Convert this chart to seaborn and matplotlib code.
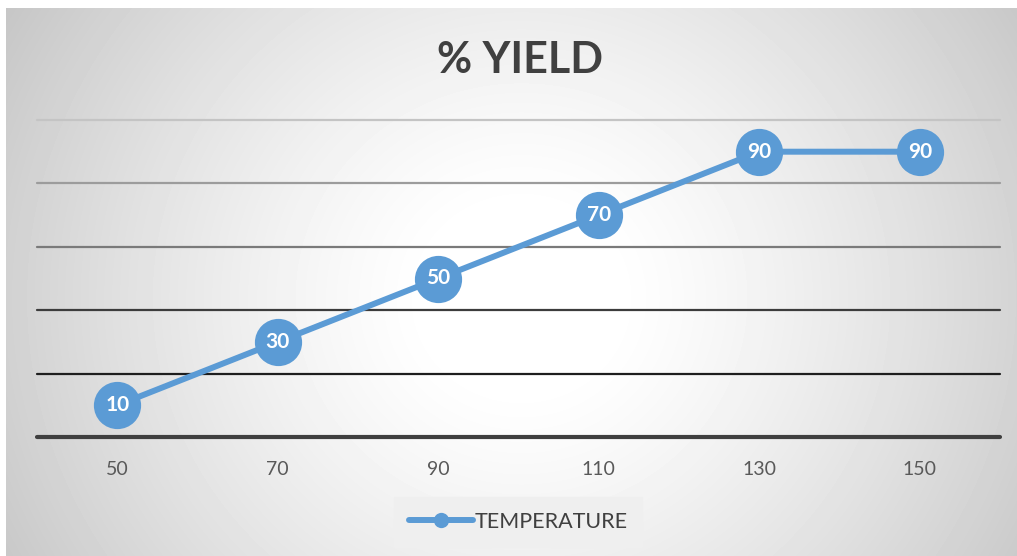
import numpy as np
import pandas as pd
import matplotlib
matplotlib.use("Agg")
import matplotlib.pyplot as plt
from matplotlib.lines import Line2D
import seaborn as sns

# Data
temperatures = ["50", "70", "90", "110", "130", "150"]
yield_pct = [10, 30, 50, 70, 90, 90]
series_name = "TEMPERATURE"
chart_title = "% YIELD"
grid_levels = [20, 40, 60, 80, 100]

sns.set_theme(style="white")
plt.rcParams["font.family"] = ["Lato", "DejaVu Sans"]

W, H = 1017, 556
fig = plt.figure(figsize=(W / 100, H / 100), dpi=100, facecolor="white")

# Radial-gradient chart frame
bg = fig.add_axes([6 / W, 0, (W - 6) / W, (H - 8) / H])
bw, bh = W - 6, H - 8
yy, xx = np.mgrid[0:bh, 0:bw]
cx, cy = 515, 290
d = np.hypot(xx - cx, (yy - cy) * 1.05)
t = np.clip((d - 90) / 520, 0, 1)
shade = 1 - 0.23 * t ** 1.25
bg.imshow(shade, cmap="gray", vmin=0, vmax=1, aspect="auto",
          interpolation="bilinear", extent=[0, 1, 0, 1])
bg.set_axis_off()

# Plot area
ax = fig.add_axes([37 / W, (H - 437) / H, (1000 - 37) / W, (437 - 120) / H])
ax.patch.set_alpha(0)

grid_colors = ["#1e1e1e", "#3c3c3c", "#7a7a7a", "#9c9c9c", "#c4c4c4"]
for lvl, c in zip(grid_levels, grid_colors):
    ax.axhline(lvl, color=c, lw=1.6, zorder=1, clip_on=False)
ax.axhline(0, color="#3f3f3f", lw=3.0, zorder=1, clip_on=False)

df = pd.DataFrame({"temp": temperatures, "yield": yield_pct})
blue = "#5b9bd5"
sns.pointplot(data=df, x="temp", y="yield", order=temperatures, ax=ax,
              color=blue, markers="o", linestyles="-", errorbar=None,
              markersize=34, linewidth=4.3)
for ln in ax.lines:
    ln.set_zorder(3)
    ln.set_markeredgewidth(0)
    ln.set_clip_on(False)
for c in ax.collections:
    c.set_zorder(4)
    c.set_clip_on(False)

for i, v in enumerate(yield_pct):
    ax.text(i, v, str(v), ha="center", va="center", color="white",
            fontsize=15, fontweight="bold", zorder=5)

ax.set_xlim(-0.5, len(temperatures) - 0.5)
ax.set_ylim(0, 100)
ax.set_yticks([])
ax.set_xlabel("")
ax.set_ylabel("")
ax.tick_params(axis="x", length=0, pad=17, labelsize=14, labelcolor="#595959")
for s in ax.spines.values():
    s.set_visible(False)

fig.text(520 / W, 1 - 60 / H, chart_title, ha="center", va="center",
         fontsize=31, fontweight="bold", color="#404040")

handle = Line2D([], [], color=blue, lw=4.3, marker="o", markersize=11,
                markeredgewidth=0)
leg = fig.legend([handle], [series_name], loc="center",
                 bbox_to_anchor=(518 / W, 1 - 522 / H), frameon=True,
                 fontsize=15.5, handlelength=3.0, handletextpad=0.05,
                 borderpad=0.7, borderaxespad=0)
leg.get_frame().set_facecolor("#efefef")
leg.get_frame().set_edgecolor("#efefef")
leg.get_frame().set_alpha(1)
leg.get_frame().set_boxstyle("square", pad=0)
for txt in leg.get_texts():
    txt.set_color("#404040")

fig.savefig("out.png", dpi=100, facecolor="white")
